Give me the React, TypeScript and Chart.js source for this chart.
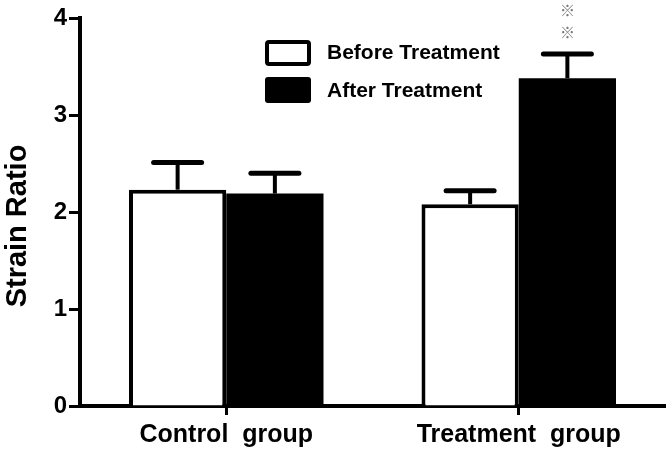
import React, { useEffect, useRef } from "react";
import { Chart, registerables } from "chart.js";

Chart.register(...registerables);

const categories = ["Control  group", "Treatment  group"];
const seriesNames = ["Before Treatment", "After Treatment"];
const beforeValues = [2.23, 2.08];
const afterValues = [2.19, 3.38];
const beforeErrors = [0.28, 0.14];
const afterErrors = [0.21, 0.25];
const yTickValues = [0, 1, 2, 3, 4];
const yAxisTitle = "Strain Ratio";
const significanceMark = "※";
const markedPoint = { dataset: 1, index: 1 };

const FONT = "Arial, 'Liberation Sans', sans-serif";

export default function App() {
  const canvasRef = useRef<HTMLCanvasElement | null>(null);

  useEffect(() => {
    if (!canvasRef.current) return;
    const errors = [beforeErrors, afterErrors];

    const errorBarPlugin = {
      id: "errorBars",
      afterDatasetsDraw(chart: any) {
        const ctx = chart.ctx;
        const yScale = chart.scales.y;
        chart.data.datasets.forEach((ds: any, i: number) => {
          const meta = chart.getDatasetMeta(i);
          meta.data.forEach((bar: any, j: number) => {
            const v = ds.data[j];
            const e = errors[i][j];
            const x = bar.x;
            const yTop = yScale.getPixelForValue(v);
            const yErr = yScale.getPixelForValue(v + e);
            ctx.save();
            ctx.strokeStyle = "#000";
            ctx.lineWidth = 4;
            ctx.beginPath();
            ctx.moveTo(x, yTop);
            ctx.lineTo(x, yErr);
            ctx.stroke();
            ctx.lineWidth = 5;
            ctx.lineCap = "round";
            ctx.beginPath();
            ctx.moveTo(x - 24, yErr);
            ctx.lineTo(x + 24, yErr);
            ctx.stroke();
            ctx.restore();
            if (i === markedPoint.dataset && j === markedPoint.index) {
              ctx.save();
              ctx.fillStyle = "#777";
              ctx.font = "15px 'Noto Sans CJK SC', 'DejaVu Sans', sans-serif";
              ctx.textAlign = "center";
              ctx.textBaseline = "middle";
              ctx.fillText(significanceMark, x, yErr - 22);
              ctx.fillText(significanceMark, x, yErr - 44);
              ctx.restore();
            }
          });
        });
      },
    };

    const decorPlugin = {
      id: "decor",
      afterDraw(chart: any) {
        const ctx = chart.ctx;
        ctx.save();
        ctx.translate(18, 226);
        ctx.rotate(-Math.PI / 2);
        ctx.font = `bold 29px ${FONT}`;
        ctx.fillStyle = "#000";
        ctx.textAlign = "center";
        ctx.textBaseline = "middle";
        ctx.fillText(yAxisTitle, 0, 0);
        ctx.restore();

        ctx.save();
        ctx.strokeStyle = "#000";
        ctx.fillStyle = "#000";
        ctx.lineWidth = 4;
        ctx.beginPath();
        ctx.roundRect(267, 42, 42, 22, 2);
        ctx.stroke();
        ctx.beginPath();
        ctx.roundRect(265, 77, 46, 26, 3);
        ctx.fill();
        ctx.font = `bold 21px ${FONT}`;
        ctx.textAlign = "left";
        ctx.textBaseline = "middle";
        ctx.fillText(seriesNames[0], 327, 53);
        ctx.fillText(seriesNames[1], 327, 91);
        ctx.restore();
      },
    };

    const chart = new Chart(canvasRef.current, {
      type: "bar",
      data: {
        labels: categories,
        datasets: [
          {
            label: seriesNames[0],
            data: beforeValues,
            backgroundColor: "#ffffff",
            borderColor: "#000000",
            borderWidth: 4,
            categoryPercentage: 0.665,
            barPercentage: 1,
          },
          {
            label: seriesNames[1],
            data: afterValues,
            backgroundColor: "#000000",
            borderColor: "#000000",
            borderWidth: 0,
            categoryPercentage: 0.665,
            barPercentage: 1,
          },
        ],
      },
      options: {
        animation: false,
        responsive: true,
        maintainAspectRatio: false,
        layout: { padding: { top: 18, right: 4, left: 0, bottom: 0 } },
        plugins: {
          legend: { display: false },
          tooltip: { enabled: false },
        },
        scales: {
          x: {
            offset: true,
            afterFit(scale: any) {
              scale.height = 46;
            },
            border: { display: true, color: "#000", width: 4 },
            grid: {
              display: true,
              offset: false,
              drawOnChartArea: false,
              drawTicks: true,
              tickLength: 9,
              tickWidth: 3,
              tickColor: "#000",
              color: "#000",
            },
            ticks: {
              color: "#000",
              padding: 5,
              font: { family: FONT, size: 25, weight: "bold" },
            },
          },
          y: {
            min: 0,
            max: 4,
            afterFit(scale: any) {
              scale.width = 80;
            },
            afterBuildTicks(scale: any) {
              scale.ticks = yTickValues.map((v) => ({ value: v }));
            },
            border: { display: true, color: "#000", width: 4 },
            grid: {
              display: true,
              drawOnChartArea: false,
              drawTicks: true,
              tickLength: 11,
              tickWidth: 3,
              tickColor: "#000",
              color: "#000",
            },
            ticks: {
              color: "#000",
              padding: 2,
              font: { family: FONT, size: 24, weight: "bold" },
            },
          },
        },
      },
      plugins: [errorBarPlugin, decorPlugin],
    } as any);

    return () => chart.destroy();
  }, []);

  return (
    <div style={{ position: "absolute", left: 0, top: 0, width: 669, height: 452, background: "#fff" }}>
      <canvas ref={canvasRef} />
    </div>
  );
}
